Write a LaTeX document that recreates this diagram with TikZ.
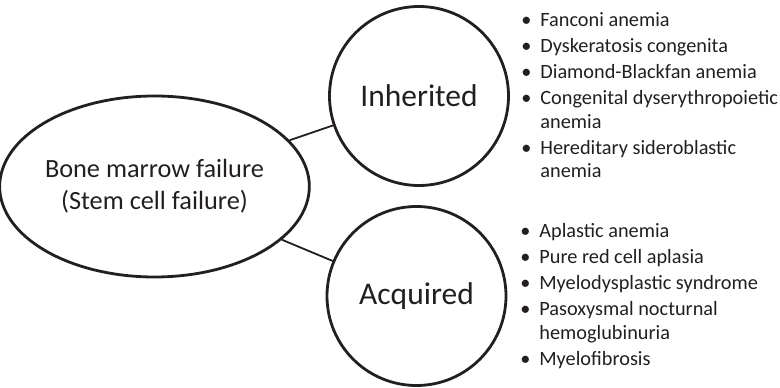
\documentclass[tikz,border=0pt]{standalone}
\usepackage{fontspec}
\setmainfont{Carlito}
\usetikzlibrary{shapes.geometric}
\definecolor{inkdark}{HTML}{231F20}
\newcommand{\diseaseitem}[1]{\makebox[19pt][l]{\textbullet}&#1}

\begin{document}
\begin{tikzpicture}[
  x=1pt,
  y=1pt,
  inkdark,
  line width=2.8pt,
  rootbubble/.style={
    ellipse,
    draw,
    minimum width=280pt,
    minimum height=181pt,
    inner sep=0pt,
    align=center,
    font=\fontsize{26.3}{32}\selectfont
  },
  bubble/.style={
    circle,
    draw,
    minimum size=179pt,
    inner sep=0pt,
    font=\fontsize{31.5}{37}\selectfont
  },
  link/.style={
    line width=1.8pt
  },
  diseases/.style={
    anchor=base west,
    inner sep=0pt,
    font=\fontsize{20.3}{23.5}\selectfont
  }
]
  \useasboundingbox (0,0) rectangle (780,388);

  \node[rootbubble] (marrow) at (154.5,201.5)
    {Bone marrow failure\\(Stem cell failure)};
  \node[bubble] (inh) at (419,292) {Inherited};
  \node[bubble] (acq) at (416.5,92) {Acquired};

  \draw[link] (marrow) -- (inh);
  \draw[link] (marrow) -- (acq);

  \node[diseases] (inhlist) at (520,361) {%
    \begin{tabular}[t]{@{}l@{}l@{}}
      \diseaseitem{Fanconi anemia}\\[2.5pt]
      \diseaseitem{Dyskeratosis congenita}\\[2.5pt]
      \diseaseitem{Diamond-Blackfan anemia}\\[2.5pt]
      \diseaseitem{Congenital dyserythropoietic}\\
        & anemia\\[2.5pt]
      \diseaseitem{Hereditary sideroblastic}\\
        & anemia
    \end{tabular}};
  \node[diseases] (acqlist) at (519,150) {%
    \begin{tabular}[t]{@{}l@{}l@{}}
      \diseaseitem{Aplastic anemia}\\[2.5pt]
      \diseaseitem{Pure red cell aplasia}\\[2.5pt]
      \diseaseitem{Myelodysplastic syndrome}\\[2.5pt]
      \diseaseitem{Pasoxysmal nocturnal}\\
        & hemoglubinuria\\[2.5pt]
      \diseaseitem{Myelofibrosis}
    \end{tabular}};
\end{tikzpicture}
\end{document}
